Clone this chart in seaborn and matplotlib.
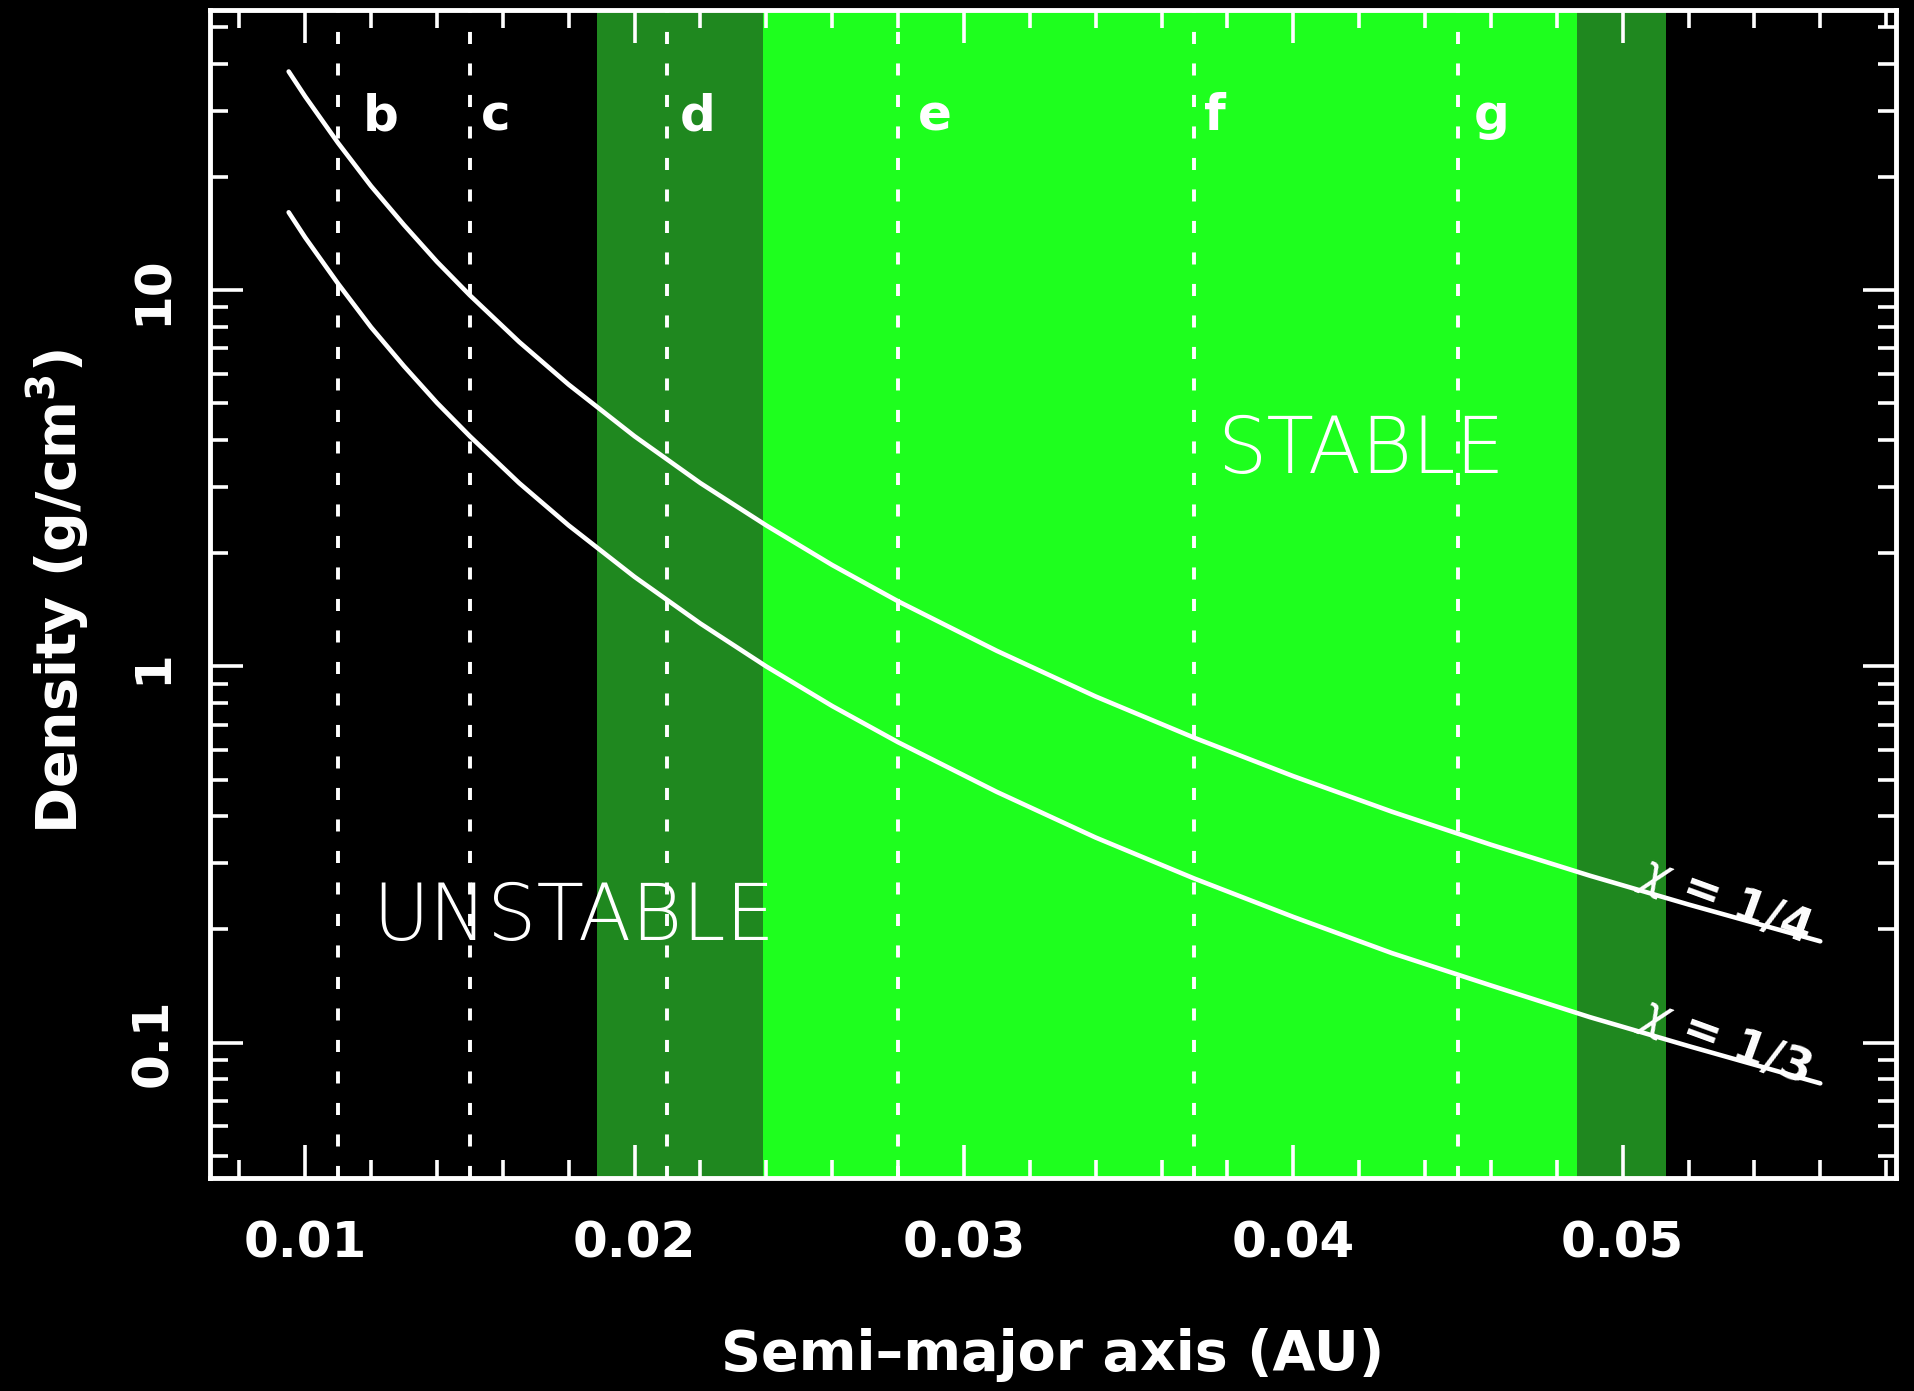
import numpy as np
import pandas as pd
import seaborn as sns
import matplotlib.pyplot as plt
from matplotlib.ticker import MultipleLocator, LogLocator, NullFormatter, FixedLocator, FixedFormatter

# semi-major axis grid and densities
a_au = [0.0095, 0.010, 0.011, 0.012, 0.013, 0.014, 0.015, 0.0165, 0.018, 0.020,
        0.022, 0.024, 0.026, 0.028, 0.031, 0.034, 0.037, 0.040, 0.043, 0.046,
        0.049, 0.052, 0.056]
rho_chi14 = [38.1, 32.7, 24.6, 18.9, 14.9, 11.9, 9.69, 7.28, 5.61, 4.09,
             3.07, 2.37, 1.86, 1.49, 1.10, 0.832, 0.646, 0.511, 0.411, 0.336,
             0.278, 0.233, 0.186]
rho_chi13 = [16.1, 13.8, 10.4, 7.97, 6.28, 5.02, 4.09, 3.07, 2.37, 1.73,
             1.30, 1.00, 0.785, 0.629, 0.464, 0.351, 0.273, 0.216, 0.173, 0.142,
             0.117, 0.098, 0.078]

planets = ["b", "c", "d", "e", "f", "g"]
planet_a = [0.011, 0.015, 0.021, 0.028, 0.037, 0.045]
label_x = [0.01229, 0.01578, 0.02193, 0.02912, 0.03761, 0.04603]

inner_zone = [0.01887, 0.02391]   # dark green
stable_zone = [0.02391, 0.04861]  # bright green
outer_zone = [0.04861, 0.05131]   # dark green

y_ticks = [0.1, 1, 10]
y_ticklabels = ["0.1", "1", "10"]

df = pd.DataFrame({
    "a": a_au * 2,
    "rho": rho_chi14 + rho_chi13,
    "chi": ["1/4"] * len(a_au) + ["1/3"] * len(a_au),
})

sns.set_style("ticks")
plt.rcParams["font.family"] = ["DejaVu Sans"]

fig = plt.figure(figsize=(19.14, 13.91), dpi=100, facecolor="black")
ax = fig.add_axes([0.1097, 0.1531, 0.8809, 0.8397])
ax.set_facecolor("black")

dark_green = "#1f881f"
bright_green = "#1eff1e"
ax.axvspan(*inner_zone, color=dark_green, lw=0, zorder=0)
ax.axvspan(*stable_zone, color=bright_green, lw=0, zorder=0)
ax.axvspan(*outer_zone, color=dark_green, lw=0, zorder=0)

for xa in planet_a:
    ax.axvline(xa, color="white", lw=2.8, linestyle=(0, (3.1, 5.0)), zorder=1)

sns.lineplot(data=df, x="a", y="rho", hue="chi", palette=["white", "white"],
             lw=3.3, legend=False, ax=ax, zorder=2)

ax.set_yscale("log")
ax.set_xlim(0.00711, 0.0583)
ax.set_ylim(0.0437, 55.5)

for name, xl in zip(planets, label_x):
    ax.text(xl, 26.6, name, color="white", fontsize=36, fontweight="bold",
            ha="center", va="baseline", zorder=3)

ax.text(0.01815, 0.214, "UNSTABLE", color="white", fontsize=56,
        ha="center", va="center", fontweight="light", zorder=3)
ax.text(0.04206, 3.73, "STABLE", color="white", fontsize=56,
        ha="center", va="center", fontweight="light", zorder=3)

ax.text(0.0531, 0.238, r"$\chi$ = 1/4", color="white", fontsize=33,
        fontweight="bold", rotation=-20, ha="center", va="center", zorder=3)
ax.text(0.0531, 0.1005, r"$\chi$ = 1/3", color="white", fontsize=33,
        fontweight="bold", rotation=-20, ha="center", va="center", zorder=3)

ax.xaxis.set_major_locator(MultipleLocator(0.01))
ax.xaxis.set_minor_locator(MultipleLocator(0.002))
ax.xaxis.set_major_formatter(plt.FormatStrFormatter("%.2f"))
ax.yaxis.set_major_locator(FixedLocator(y_ticks))
ax.yaxis.set_major_formatter(FixedFormatter(y_ticklabels))
ax.yaxis.set_minor_locator(LogLocator(base=10, subs=np.arange(2, 10)))
ax.yaxis.set_minor_formatter(NullFormatter())

for side in ["left", "right", "top", "bottom"]:
    ax.spines[side].set_color("white")
    ax.spines[side].set_linewidth(3.5)
    ax.spines[side].set_zorder(5)

ax.tick_params(which="both", direction="in", colors="white",
               top=True, right=True, width=2.6)
ax.tick_params(which="major", length=24)
ax.tick_params(which="minor", length=13)
ax.tick_params(axis="x", which="major", pad=30, labelsize=36)
ax.tick_params(axis="y", which="major", pad=24, labelsize=36, labelrotation=90)
for lab in ax.get_xticklabels() + ax.get_yticklabels():
    lab.set_fontweight("bold")
for lab in ax.get_yticklabels():
    lab.set_va("center")

ax.set_xlabel("Semi\u2013major axis (AU)", color="white", fontsize=40, fontweight="bold")
ax.xaxis.set_label_coords(0.5, -0.128)
ax.set_ylabel(r"Density (g/cm$^\mathbf{3}$)", color="white", fontsize=40, fontweight="bold")
ax.yaxis.set_label_coords(-0.070, 0.502)

fig.savefig("out.png", dpi=100, facecolor="black")
